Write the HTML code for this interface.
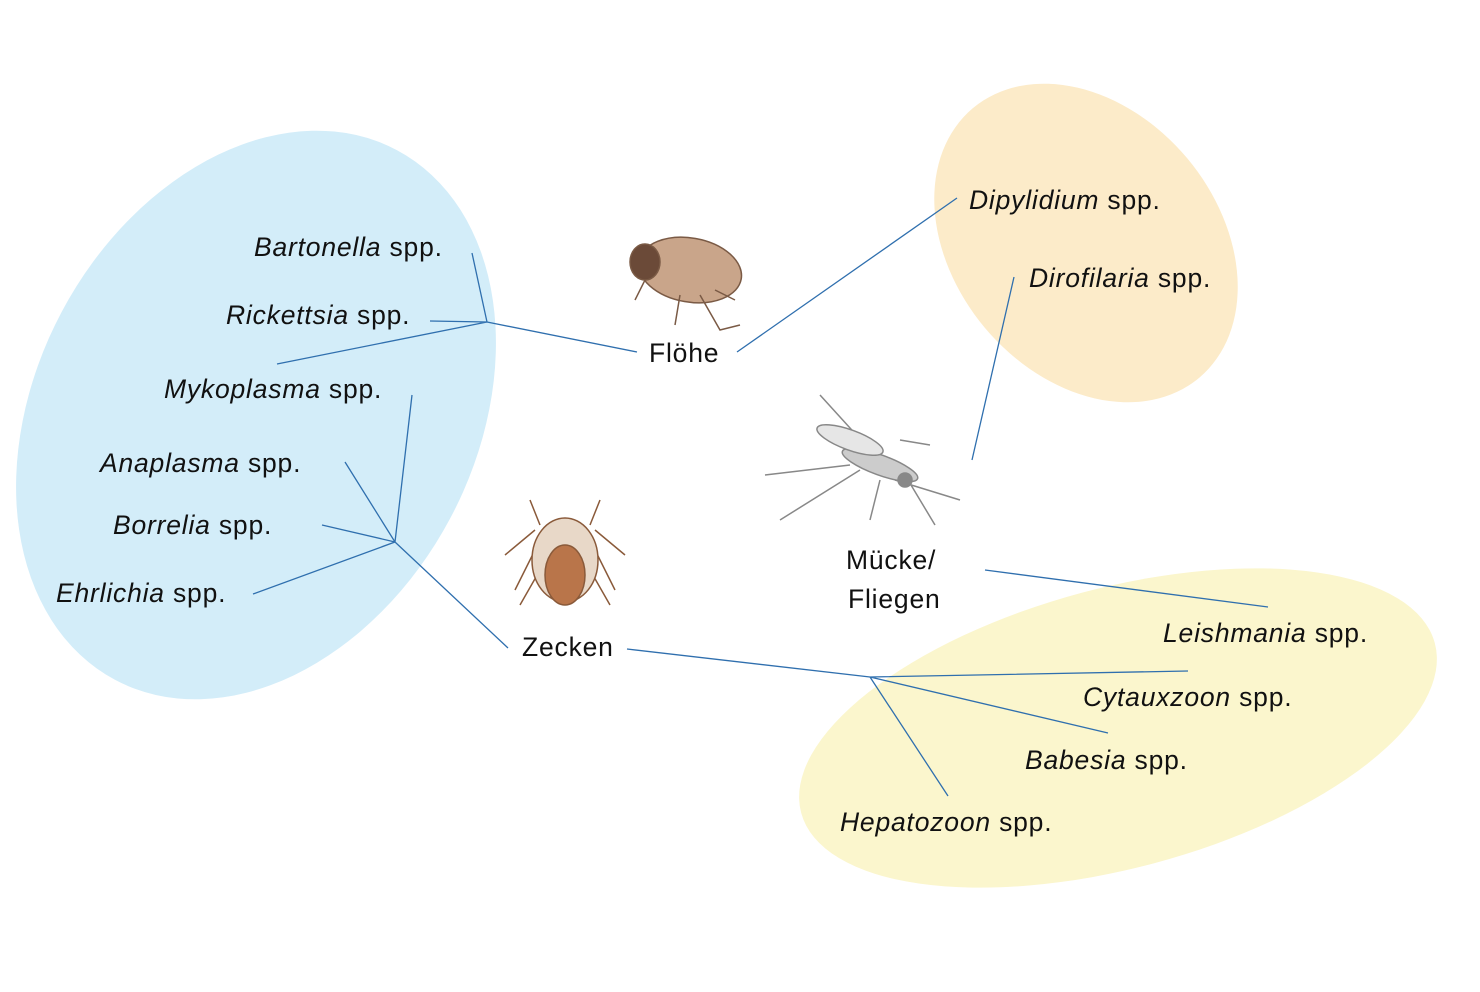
<!DOCTYPE html>
<html><head><meta charset="utf-8"><style>
body{margin:0;background:#fff;width:1480px;height:987px;overflow:hidden}
svg text{font-family:"Liberation Sans",sans-serif;font-size:26.5px;letter-spacing:0.8px;fill:#111}
</style></head><body>
<svg width="1480" height="987" viewBox="0 0 1480 987">
<ellipse cx="256" cy="415" rx="220" ry="300" transform="rotate(28 256 415)" fill="#d3edf9"/>
<ellipse cx="1086" cy="243" rx="132" ry="176" transform="rotate(-40 1086 243)" fill="#fcebc9"/>
<ellipse cx="1118" cy="728" rx="328" ry="140" transform="rotate(-15 1118 728)" fill="#fbf6cd"/>
<g stroke="#2f6fae" stroke-width="1.3" fill="none">
<path d="M487 322L472 253M487 322L430 321M487 322L277 364M487 322L637 352"/>
<path d="M737 352L957 198M972 460L1014 277"/>
<path d="M395 542L412 395M395 542L345 462M395 542L322 525M395 542L253 594M395 542L508 648"/>
<path d="M627 649L870 677M870 677L1188 671M870 677L1108 733M870 677L948 796M985 570L1268 607"/>
</g>
<text x="254" y="256"><tspan font-style="italic">Bartonella</tspan> spp.</text>
<text x="226" y="324"><tspan font-style="italic">Rickettsia</tspan> spp.</text>
<text x="164" y="398"><tspan font-style="italic">Mykoplasma</tspan> spp.</text>
<text x="100" y="472"><tspan font-style="italic">Anaplasma</tspan> spp.</text>
<text x="113" y="534"><tspan font-style="italic">Borrelia</tspan> spp.</text>
<text x="56" y="602"><tspan font-style="italic">Ehrlichia</tspan> spp.</text>
<text x="969" y="209"><tspan font-style="italic">Dipylidium</tspan> spp.</text>
<text x="1029" y="287"><tspan font-style="italic">Dirofilaria</tspan> spp.</text>
<text x="1163" y="642"><tspan font-style="italic">Leishmania</tspan> spp.</text>
<text x="1083" y="706"><tspan font-style="italic">Cytauxzoon</tspan> spp.</text>
<text x="1025" y="769"><tspan font-style="italic">Babesia</tspan> spp.</text>
<text x="840" y="831"><tspan font-style="italic">Hepatozoon</tspan> spp.</text>
<text x="649" y="362">Flöhe</text>
<text x="522" y="656">Zecken</text>
<text x="846" y="569">Mücke/</text>
<text x="848" y="608">Fliegen</text>
<!-- flea -->
<g stroke="#7a5a45" stroke-width="1.5" fill="#c9a58a">
<ellipse cx="690" cy="270" rx="52" ry="32" transform="rotate(10 690 270)"/>
<path d="M650 270L635 300M680 295L675 325M700 295L720 330L740 325M715 290L735 300" fill="none"/>
<ellipse cx="645" cy="262" rx="15" ry="18" fill="#6b4a38"/>
</g>
<!-- mosquito -->
<g stroke="#888" stroke-width="1.5" fill="#ccc">
<path d="M820 395L870 450M765 475L850 465M780 520L860 470M900 440L930 445M905 475L935 525M880 480L870 520M895 480L960 500" fill="none"/>
<ellipse cx="880" cy="465" rx="40" ry="10" transform="rotate(20 880 465)"/>
<ellipse cx="850" cy="440" rx="35" ry="10" fill="#e6e6e6" transform="rotate(20 850 440)"/>
<circle cx="905" cy="480" r="7" fill="#888"/>
</g>
<!-- tick -->
<g stroke="#8a5a3a" stroke-width="1.5" fill="#d7b08f">
<path d="M535 530L505 555M535 550L515 590M595 530L625 555M595 550L615 590M540 570L520 605M590 570L610 605M530 500L540 525M600 500L590 525" fill="none"/>
<ellipse cx="565" cy="560" rx="33" ry="42" fill="#e8d8c8"/>
<ellipse cx="565" cy="575" rx="20" ry="30" fill="#b9754a"/>
</g>
</svg>
</body></html>
